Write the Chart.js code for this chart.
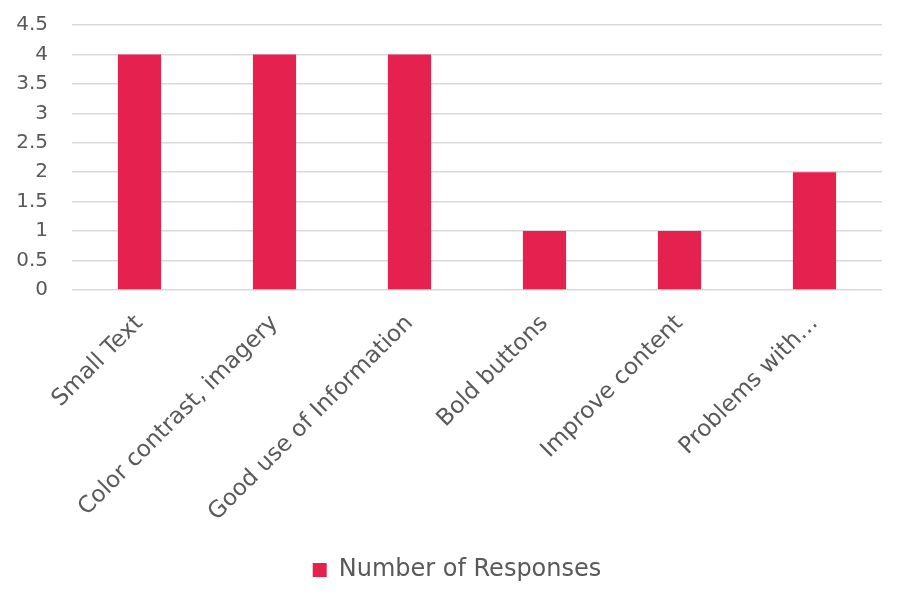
<!DOCTYPE html>
<html lang="en">
<head>
<meta charset="utf-8">
<title>Number of Responses</title>
<script src="https://cdn.jsdelivr.net/npm/chart.js@4.4.0/dist/chart.umd.min.js"></script>
<style>
  html, body { margin: 0; padding: 0; background: #fff; }
  #wrap { width: 906px; height: 604px; }
</style>
</head>
<body>
<div id="wrap"><canvas id="chart" width="906" height="604"></canvas></div>
<script>
const categories = ['Small Text', 'Color contrast, imagery', 'Good use of Information', 'Bold buttons', 'Improve content', 'Problems with\u2026'];
const responses = [4, 4, 4, 1, 1, 2];
const seriesName = 'Number of Responses';

const textColor = '#595959';
const barColor = '#E5214F';
const fontName = 'DejaVu Sans';

// nudge the legend a little right, it sits off-centre in the original
const legendShift = {
  id: 'legendShift',
  afterLayout(chart) {
    chart.legend.left += 14;
    chart.legend.right += 14;
  }
};

const ctx = document.getElementById('chart').getContext('2d');
new Chart(ctx, {
  type: 'bar',
  data: {
    labels: categories,
    datasets: [{
      label: seriesName,
      data: responses,
      backgroundColor: barColor,
      borderWidth: 0,
      categoryPercentage: 1.0,
      barPercentage: 0.32
    }]
  },
  options: {
    responsive: false,
    animation: false,
    layout: { padding: { left: 4, right: 24, top: 0, bottom: 12 } },
    plugins: {
      legend: {
        position: 'bottom',
        labels: {
          color: textColor,
          font: { family: fontName, size: 24 },
          boxWidth: 14,
          boxHeight: 14,
          padding: 10
        }
      },
      tooltip: { enabled: false }
    },
    scales: {
      x: {
        grid: { display: false },
        border: { display: false },
        afterFit: s => { s.height = 258; },
        ticks: {
          color: textColor,
          font: { family: fontName, size: 23 },
          minRotation: 45,
          maxRotation: 45,
          autoSkip: false,
          padding: 12
        }
      },
      y: {
        min: 0,
        max: 4.5,
        afterFit: s => { s.width = 68; s.paddingTop = 25; },
        ticks: {
          stepSize: 0.5,
          color: textColor,
          font: { family: fontName, size: 20 },
          padding: 24,
          callback: v => String(v)
        },
        grid: { color: '#d9d9d9', lineWidth: 1.5, drawTicks: false },
        border: { display: false }
      }
    }
  },
  plugins: [legendShift]
});
</script>
</body>
</html>
